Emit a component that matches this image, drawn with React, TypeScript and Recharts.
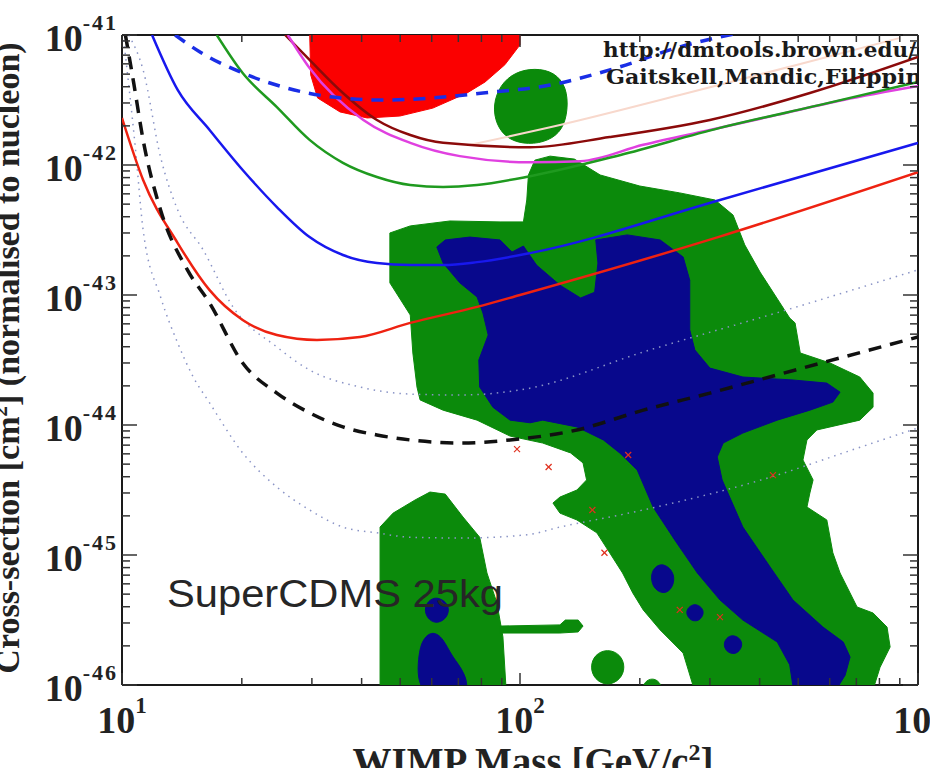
import React from "react";
import { ComposedChart, Scatter, XAxis, YAxis } from "recharts";

// [WIMP mass in GeV/c^2, cross-section in cm^2]
type Pt = [number, number];

const X_MAJOR = [10, 100, 1000];
const X_MINOR = [20, 30, 40, 50, 60, 70, 80, 90, 200, 300, 400, 500, 600, 700, 800, 900];
const Y_MAJOR = [1e-46, 1e-45, 1e-44, 1e-43, 1e-42, 1e-41];
const Y_MINOR = [
  2e-46, 3e-46, 4e-46, 5e-46, 6e-46, 7e-46, 8e-46, 9e-46,
  2e-45, 3e-45, 4e-45, 5e-45, 6e-45, 7e-45, 8e-45, 9e-45,
  2e-44, 3e-44, 4e-44, 5e-44, 6e-44, 7e-44, 8e-44, 9e-44,
  2e-43, 3e-43, 4e-43, 5e-43, 6e-43, 7e-43, 8e-43, 9e-43,
  2e-42, 3e-42, 4e-42, 5e-42, 6e-42, 7e-42, 8e-42, 9e-42,
];

// filled regions
const RED_BLOB: Pt[] = [
  [29.6, 1.1e-41], [100, 1.1e-41], [100, 8.4e-42], [91.6, 5.9e-42], [81.7, 4.35e-42],
  [73.6, 3.58e-42], [60.4, 2.74e-42], [49.9, 2.38e-42], [41.3, 2.3e-42], [35.3, 2.56e-42],
  [31.0, 3.28e-42], [29.8, 4.92e-42],
];

const GREEN_MAIN: Pt[] = [
  [47.1, 3.0e-43], [53.0, 3.4e-43], [66.7, 3.71e-43], [89.1, 3.65e-43], [102, 3.65e-43],
  [104, 5.38e-43], [105, 8.38e-43], [109, 1.09e-42], [119, 1.17e-42], [137, 1.11e-42],
  [159, 8.38e-43], [200, 6.89e-43], [252, 6.1e-43], [309, 5.38e-43], [343, 4.12e-43],
  [367, 2.43e-43], [401, 1.5e-43], [445, 9.16e-44], [476, 6.65e-44], [491, 6.1e-44],
  [506, 3.58e-44], [601, 3.0e-44], [714, 2.34e-44], [771, 1.76e-44], [771, 1.37e-44],
  [714, 1.09e-44], [557, 9.16e-45], [526, 7.67e-45], [514, 5.38e-45], [545, 3.78e-45],
  [535, 3.0e-45], [526, 2.34e-45], [590, 1.86e-45], [611, 1.04e-45], [637, 7.27e-46],
  [703, 3.98e-46], [771, 3.58e-46], [836, 2.79e-46], [851, 1.96e-46], [803, 1.37e-46],
  [757, 7.7e-47], [279, 7.7e-47], [257, 1.76e-46], [225, 2.65e-46], [204, 3.78e-46],
  [192, 5.11e-46], [181, 7.27e-46], [168, 1.04e-45], [156, 1.48e-45], [139, 1.86e-45],
  [126, 2.1e-45], [121, 2.51e-45], [126, 2.79e-45], [139, 3.16e-45], [147, 3.78e-45],
  [144, 5.11e-45], [134, 6.1e-45], [114, 7.27e-45], [94.4, 8.22e-45], [78, 1.09e-44],
  [64.1, 1.3e-44], [56.1, 1.56e-44], [55.1, 1.96e-44], [53.8, 3.58e-44], [53.0, 7.02e-44],
  [47.1, 1.24e-43],
];

const GREEN_TOP: Pt[] = [
  [89.1, 4.12e-42], [97.1, 5.19e-42], [109, 5.57e-42], [122, 5.19e-42], [131, 3.98e-42],
  [132, 2.65e-42], [128, 1.86e-42], [118, 1.53e-42], [105, 1.43e-42], [93.3, 1.56e-42],
  [87.1, 2.03e-42], [85.5, 2.9e-42],
];

const GREEN_LOW_LEFT: Pt[] = [
  [44.5, 7.7e-47], [44.5, 1.64e-45], [48.0, 2.1e-45], [54.5, 2.65e-45], [59.4, 3.05e-45],
  [64.9, 2.94e-45], [71.9, 1.96e-45], [79.2, 1.37e-45], [82.6, 7.27e-46], [87.5, 4.28e-46],
  [90.6, 2.34e-46], [92.6, 7.7e-47],
];

const GREEN_BAR: Pt[] = [
  [89.1, 2.84e-46], [126, 2.9e-46], [130, 3.16e-46], [140, 3.16e-46], [144, 2.84e-46],
  [140, 2.56e-46], [126, 2.51e-46], [89.1, 2.51e-46],
];

const GREEN_DROP: Pt[] = [
  [166, 1.9e-46], [179, 1.72e-46], [184, 1.37e-46], [179, 1.1e-46], [166, 9.8e-47],
  [154, 1.1e-46], [150, 1.37e-46], [154, 1.72e-46],
];

const GREEN_BUMP: Pt[] = [
  [200, 8.8e-47], [206, 1.07e-46], [215, 1.13e-46], [224, 1.07e-46], [230, 8.8e-47],
];

const BLUE_MAIN: Pt[] = [
  [61.8, 2.34e-43], [64.9, 2.65e-43], [74.8, 2.79e-43], [89.1, 2.65e-43], [95.5, 2.14e-43],
  [102, 2.38e-43], [110, 1.7e-43], [126, 1.19e-43], [142, 9.48e-44], [154, 1.05e-43],
  [157, 1.76e-43], [155, 2.65e-43], [186, 2.9e-43], [225, 2.65e-43], [257, 1.96e-43],
  [267, 1.3e-43], [267, 5.38e-44], [275, 3.78e-44], [300, 2.74e-44], [363, 2.34e-44],
  [485, 2.22e-44], [590, 2.1e-44], [637, 1.79e-44], [611, 1.5e-44], [535, 1.3e-44],
  [443, 1.09e-44], [363, 8.67e-45], [324, 7.27e-45], [313, 5.68e-45], [322, 3.78e-45],
  [363, 1.64e-45], [425, 8.09e-46], [485, 4.51e-46], [577, 2.79e-46], [649, 2.14e-46],
  [675, 1.64e-46], [656, 1.19e-46], [601, 7.7e-47], [491, 7.7e-47], [476, 1.43e-46],
  [443, 2.14e-46], [363, 3.16e-46], [318, 4.51e-46], [279, 7.27e-46], [245, 1.3e-45],
  [216, 2.34e-45], [197, 4.51e-45], [178, 6.1e-45], [162, 7.67e-45], [139, 9.66e-45],
  [114, 1.09e-44], [106, 1.04e-44], [94.4, 1.09e-44], [85.5, 1.37e-44], [79.2, 1.96e-44],
  [78.8, 3.16e-44], [83.2, 4.92e-44], [80.7, 7.27e-44], [78, 9.66e-44], [70.6, 1.24e-43],
  [64.1, 1.76e-43],
];

const BLUE_LOW_LEFT: Pt[] = [
  [55.1, 7.7e-47], [55.4, 1.7e-46], [57.1, 2.3e-46], [60.4, 2.6e-46], [64.1, 2.3e-46],
  [67.5, 1.64e-46], [72.8, 1.26e-46], [75.3, 7.7e-47],
];
const BLUE_SPOT_A: Pt[] = [
  [61.8, 4.8e-46], [65.6, 4.3e-46], [66.4, 3.71e-46], [65.0, 3.2e-46], [61.5, 2.95e-46],
  [58.4, 3.25e-46], [57.5, 3.85e-46], [58.8, 4.45e-46],
];
const BLUE_SPOT_B: Pt[] = [
  [229, 8.6e-46], [241, 7.7e-46], [245, 6.43e-46], [239, 5.3e-46], [227, 5.0e-46],
  [215, 5.7e-46], [213, 7.1e-46], [219, 8.2e-46],
];
const BLUE_SPOT_C: Pt[] = [
  [275, 4.25e-46], [287, 3.95e-46], [290, 3.52e-46], [282, 3.1e-46], [269, 3.1e-46],
  [261, 3.52e-46], [264, 3.95e-46],
];
const BLUE_SPOT_D: Pt[] = [
  [343, 2.45e-46], [360, 2.25e-46], [362, 1.96e-46], [350, 1.72e-46], [333, 1.76e-46],
  [324, 2.0e-46], [329, 2.3e-46],
];

// limit curves
const RED_LIMIT: Pt[] = [
  [10, 2.3e-42], [11.3, 7.67e-43], [13.8, 2.51e-43], [16.6, 1.09e-43], [20.1, 6.43e-44],
  [24.5, 4.92e-44], [30.9, 4.51e-44], [39.6, 4.75e-44], [53, 6.1e-44], [78, 8.1e-44],
  [100, 1.0e-43], [316, 2.8e-43], [1000, 8.8e-43],
];
const BLUE_LIMIT: Pt[] = [
  [11.9, 1e-41], [13.8, 3.78e-42], [16.6, 1.86e-42], [20.1, 9.16e-43], [24.5, 4.75e-43],
  [29.6, 2.79e-43], [35.9, 2.03e-43], [43.7, 1.76e-43], [53, 1.7e-43], [64.1, 1.7e-43],
  [78, 1.79e-43], [106, 2.1e-43], [318, 5.38e-43], [1000, 1.48e-42],
];
const GREEN_LIMIT: Pt[] = [
  [17.3, 1e-41], [20.1, 5.1e-42], [24.5, 2.79e-42], [29.6, 1.56e-42], [35.9, 1.04e-42],
  [43.7, 8.09e-43], [53, 7.02e-43], [64.1, 6.78e-43], [78, 7.02e-43], [106, 8.2e-43],
  [178, 1.19e-42], [318, 1.93e-42], [568, 2.9e-42], [1000, 4.35e-42],
];
const MAGENTA_LIMIT: Pt[] = [
  [26.1, 1e-41], [29.6, 5.57e-42], [40.4, 2.22e-42], [53, 1.48e-42], [70.6, 1.17e-42],
  [106, 1.05e-42], [142, 1.07e-42], [204, 1.43e-42], [300, 1.86e-42], [443, 2.43e-42],
  [649, 3.16e-42], [1000, 4.05e-42],
];
const BROWN_LIMIT: Pt[] = [
  [25.7, 1e-41], [29.6, 6.43e-42], [35.9, 3.58e-42], [43.7, 2.22e-42], [53, 1.7e-42],
  [64.1, 1.48e-42], [106, 1.37e-42], [168, 1.64e-42], [300, 2.22e-42], [535, 3.58e-42],
  [1000, 6.78e-42],
];
const PEACH_LIMIT: Pt[] = [
  [74.8, 1.43e-42], [126, 2.03e-42], [252, 3.45e-42], [506, 5.98e-42], [902, 9.5e-42],
];
const BLUE_DASHED: Pt[] = [
  [13.6, 1e-41], [15.7, 7.4e-42], [20.1, 5.1e-42], [25.4, 3.98e-42], [33.9, 3.33e-42],
  [45.3, 3.16e-42], [60.4, 3.28e-42], [80.7, 3.58e-42], [119, 4.12e-42], [178, 5.68e-42],
  [252, 8.1e-42], [357, 1.04e-41],
];
const BLACK_DASHED: Pt[] = [
  [10.2, 1e-41], [10.7, 4.28e-42], [11.3, 1.56e-42], [12.5, 4.51e-43], [14.6, 1.56e-43],
  [16.6, 8.68e-44], [20.1, 3.0e-44], [24.5, 1.76e-44], [29.6, 1.24e-44], [35.9, 9.66e-45],
  [43.7, 8.38e-45], [53, 7.67e-45], [70.6, 7.27e-45], [94.4, 7.67e-45], [139, 9.16e-45],
  [204, 1.3e-44], [300, 1.76e-44], [443, 2.43e-44], [649, 3.33e-44], [1000, 4.75e-44],
];
const DOTTED_UPPER: Pt[] = [
  [10.4, 1e-41], [11.3, 5.38e-42], [12.5, 1.15e-42], [13.8, 4.51e-43], [16.0, 2.22e-43],
  [19.0, 8.09e-44], [24.5, 3.98e-44], [29.6, 2.65e-44], [39.6, 1.96e-44], [53, 1.73e-44],
  [70.6, 1.7e-44], [100, 1.86e-44], [212, 3.78e-44], [485, 7.94e-44], [1000, 1.56e-43],
];
const DOTTED_LOWER: Pt[] = [
  [10.1, 9.16e-42], [10.8, 1.37e-42], [11.3, 3.16e-43], [12.5, 9.66e-44], [13.8, 4.28e-44],
  [15.1, 2.34e-44], [16.6, 1.48e-44], [20.1, 6.1e-45], [24.5, 3.33e-45], [29.6, 2.22e-45],
  [35.9, 1.64e-45], [43.7, 1.48e-45], [53, 1.37e-45], [70.6, 1.35e-45], [104, 1.43e-45],
  [126, 1.64e-45], [204, 2.22e-45], [443, 4.12e-45], [649, 6.1e-45], [1000, 9.5e-45],
];

const RED_MARKS: Pt[] = [
  [98.3, 6.53e-45], [118, 4.75e-45], [187, 5.88e-45], [152, 2.22e-45],
  [163, 1.04e-45], [252, 3.78e-46], [318, 3.33e-46], [432, 4.12e-45],
];

const W = 930;
const H = 768;
const PLOT_LEFT = 122;
const PLOT_RIGHT = 918;
const PLOT_TOP = 35;
const PLOT_BOTTOM = 685;

const SERIF = "'Liberation Serif', 'Times New Roman', serif";
const GREEN = "#0b8a0b";
const NAVY = "#08088c";

const rows = (pts: Pt[]) => pts.map(([m, s]) => ({ m, s }));
const NoDot = () => null;

const isMajor = (v: number, majors: number[]) =>
  majors.some((t) => Math.abs(t - v) / t < 1e-6);
const expOf = (v: number) => Math.round(Math.log10(v));

function LeftTick(props: any) {
  const { x, y, payload } = props;
  const major = isMajor(payload.value, Y_MAJOR);
  return (
    <g>
      <line x1={x} y1={y} x2={x + (major ? 15 : 8)} y2={y} stroke="#333" strokeWidth={1.5} />
      {major && (
        <text x={x - 4} y={y + 16} textAnchor="end" fontFamily={SERIF} fontWeight="bold" fontSize={38} fill="#222">
          10
          <tspan dy={-21} fontSize={22} letterSpacing={2}>
            {`${expOf(payload.value)}`}
          </tspan>
        </text>
      )}
    </g>
  );
}

function RightTick(props: any) {
  const { x, y, payload } = props;
  const major = isMajor(payload.value, Y_MAJOR);
  return <line x1={x} y1={y} x2={x - (major ? 15 : 8)} y2={y} stroke="#333" strokeWidth={1.5} />;
}

function BottomTick(props: any) {
  const { x, y, payload } = props;
  const major = isMajor(payload.value, X_MAJOR);
  return (
    <g>
      <line x1={x} y1={y} x2={x} y2={y - (major ? 12 : 7)} stroke="#333" strokeWidth={1.5} />
      {major && (
        <text x={x} y={y + 48} textAnchor="middle" fontFamily={SERIF} fontWeight="bold" fontSize={38} fill="#222">
          10
          <tspan dy={-20} fontSize={23}>
            {`${expOf(payload.value)}`}
          </tspan>
        </text>
      )}
    </g>
  );
}

function TopTick(props: any) {
  const { x, y, payload } = props;
  const major = isMajor(payload.value, X_MAJOR);
  return <line x1={x} y1={y} x2={x} y2={y + (major ? 12 : 7)} stroke="#333" strokeWidth={1.5} />;
}

function XMark(props: any) {
  const { cx, cy } = props;
  if (cx == null || cy == null) return null;
  return (
    <g stroke="#e0301e" strokeWidth={1.2}>
      <line x1={cx - 3} y1={cy - 3} x2={cx + 3} y2={cy + 3} />
      <line x1={cx - 3} y1={cy + 3} x2={cx + 3} y2={cy - 3} />
    </g>
  );
}

// texts drawn above the plotted marks
function Overlay() {
  return (
    <svg
      width={W}
      height={H}
      style={{ position: "absolute", left: 0, top: 0, pointerEvents: "none" }}
    >
      <defs>
        <clipPath id="plot-area-clip">
          <rect x={PLOT_LEFT} y={PLOT_TOP} width={PLOT_RIGHT - PLOT_LEFT} height={PLOT_BOTTOM - PLOT_TOP} />
        </clipPath>
      </defs>
      <text
        x={167}
        y={607}
        fontFamily="'Liberation Sans', Arial, sans-serif"
        fontSize={38}
        fill="#262626"
        textLength={336}
        lengthAdjust="spacingAndGlyphs"
      >
        SuperCDMS 25kg
      </text>
      <g clipPath="url(#plot-area-clip)" fontFamily="'DejaVu Serif', serif" fontWeight="bold" fill="#1a1a1a">
        <text x={603} y={57} fontSize={21} textLength={313} lengthAdjust="spacingAndGlyphs">
          http://dmtools.brown.edu/
        </text>
        <text x={606} y={84} fontSize={21} textLength={324} lengthAdjust="spacingAndGlyphs">
          Gaitskell,Mandic,Filippini
        </text>
      </g>
      <text x={533} y={775} textAnchor="middle" fontFamily={SERIF} fontWeight="bold" fontSize={39} fill="#222">
        WIMP Mass [GeV/c
        <tspan dy={-15} fontSize={24}>2</tspan>
        <tspan dy={15}>]</tspan>
      </text>
      <text
        transform="translate(19,358) rotate(-90)"
        textAnchor="middle"
        fontFamily={SERIF}
        fontWeight="bold"
        fontSize={34}
        fill="#222"
      >
        Cross-section [cm
        <tspan dy={-12} fontSize={21}>2</tspan>
        <tspan dy={12}>] (normalised to nucleon)</tspan>
      </text>
    </svg>
  );
}

function region(key: string, pts: Pt[], color: string, joint: "linearClosed" | "basisClosed") {
  return (
    <Scatter
      key={key}
      name={key}
      data={rows(pts)}
      shape={NoDot}
      line={{ fill: color, stroke: color, strokeWidth: 1 }}
      lineType="joint"
      lineJointType={joint}
      isAnimationActive={false}
    />
  );
}

function curve(key: string, pts: Pt[], color: string, width: number, dash?: string) {
  return (
    <Scatter
      key={key}
      name={key}
      data={rows(pts)}
      shape={NoDot}
      line={{ fill: "none", stroke: color, strokeWidth: width, strokeDasharray: dash }}
      lineType="joint"
      lineJointType="monotoneX"
      isAnimationActive={false}
    />
  );
}

export default function App() {
  const xTicks = [...X_MAJOR, ...X_MINOR];
  const yTicks = [...Y_MAJOR, ...Y_MINOR];
  const frame = { stroke: "#1a1a1a", strokeWidth: 2 };

  return (
    <div style={{ position: "absolute", left: 0, top: 0, width: W, height: H, background: "#fff" }}>
      <ComposedChart width={W} height={H} margin={{ top: 0, right: 0, bottom: 0, left: 0 }}>
        <XAxis
          dataKey="m"
          type="number"
          scale="log"
          domain={[10, 1000]}
          allowDataOverflow
          ticks={xTicks}
          interval={0}
          tickSize={0}
          tickMargin={0}
          tickLine={false}
          axisLine={frame}
          height={H - PLOT_BOTTOM}
          tick={<BottomTick />}
        />
        <XAxis
          xAxisId="top"
          orientation="top"
          dataKey="m"
          type="number"
          scale="log"
          domain={[10, 1000]}
          allowDataOverflow
          ticks={xTicks}
          interval={0}
          tickSize={0}
          tickMargin={0}
          tickLine={false}
          axisLine={frame}
          height={PLOT_TOP}
          tick={<TopTick />}
        />
        <YAxis
          dataKey="s"
          type="number"
          scale="log"
          domain={[1e-46, 1e-41]}
          allowDataOverflow
          ticks={yTicks}
          interval={0}
          tickSize={0}
          tickMargin={0}
          tickLine={false}
          axisLine={frame}
          width={PLOT_LEFT}
          tick={<LeftTick />}
        />
        <YAxis
          yAxisId="right"
          orientation="right"
          dataKey="s"
          type="number"
          scale="log"
          domain={[1e-46, 1e-41]}
          allowDataOverflow
          ticks={yTicks}
          interval={0}
          tickSize={0}
          tickMargin={0}
          tickLine={false}
          axisLine={frame}
          width={W - PLOT_RIGHT}
          tick={<RightTick />}
        />

        {region("green-main", GREEN_MAIN, GREEN, "linearClosed")}
        {region("green-top", GREEN_TOP, GREEN, "basisClosed")}
        {region("green-low-left", GREEN_LOW_LEFT, GREEN, "linearClosed")}
        {region("green-bar", GREEN_BAR, GREEN, "linearClosed")}
        {region("green-drop", GREEN_DROP, GREEN, "basisClosed")}
        {region("green-bump", GREEN_BUMP, GREEN, "basisClosed")}
        {region("blue-main", BLUE_MAIN, NAVY, "linearClosed")}
        {region("blue-low-left", BLUE_LOW_LEFT, NAVY, "basisClosed")}
        {region("blue-spot-a", BLUE_SPOT_A, NAVY, "basisClosed")}
        {region("blue-spot-b", BLUE_SPOT_B, NAVY, "basisClosed")}
        {region("blue-spot-c", BLUE_SPOT_C, NAVY, "basisClosed")}
        {region("blue-spot-d", BLUE_SPOT_D, NAVY, "basisClosed")}
        {region("red-blob", RED_BLOB, "#fb0000", "linearClosed")}

        {curve("dotted-upper", DOTTED_UPPER, "#8a94c6", 1.5, "1.5 5")}
        {curve("dotted-lower", DOTTED_LOWER, "#8a94c6", 1.5, "1.5 5")}
        {curve("peach", PEACH_LIMIT, "#f8d8cc", 2)}
        {curve("brown", BROWN_LIMIT, "#8b0a0a", 2.5)}
        {curve("magenta", MAGENTA_LIMIT, "#e040e0", 2.5)}
        {curve("green", GREEN_LIMIT, "#1f9a1f", 2.5)}
        {curve("blue", BLUE_LIMIT, "#1818ee", 2.5)}
        {curve("red", RED_LIMIT, "#ee2211", 2.5)}
        {curve("blue-dashed", BLUE_DASHED, "#1a2ee6", 3.5, "12 9")}
        {curve("black-dashed", BLACK_DASHED, "#111111", 3.5, "13 9")}

        <Scatter name="marks" data={rows(RED_MARKS)} shape={XMark} isAnimationActive={false} />
      </ComposedChart>
      <Overlay />
    </div>
  );
}
